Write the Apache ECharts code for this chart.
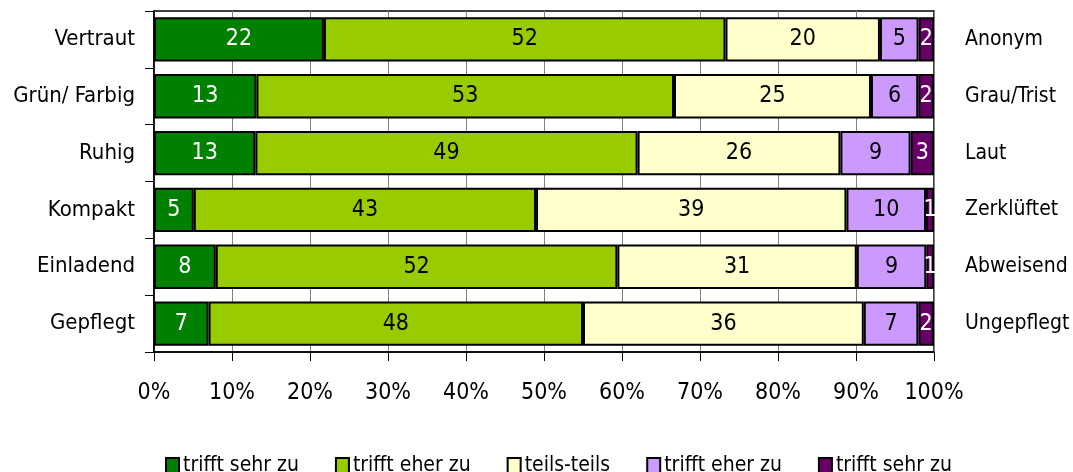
<!DOCTYPE html>
<html>
<head>
<meta charset="utf-8">
<script src="https://cdn.jsdelivr.net/npm/echarts@6/dist/echarts.min.js"></script>
<style>
  html, body { margin: 0; padding: 0; background: #fff; }
  #chart { width: 1073px; height: 472px; }
</style>
</head>
<body>
<div id="chart"></div>
<script>
// Item pairs: positive pole (left) and negative pole (right)
const leftLabels = ['Vertraut', 'Grün/ Farbig', 'Ruhig', 'Kompakt', 'Einladend', 'Gepflegt'];
const rightLabels = ['Anonym', 'Grau/Trist', 'Laut', 'Zerklüftet', 'Abweisend', 'Ungepflegt'];

// Answer shares in percent per item
const sehrLinks = [22, 13, 13, 5, 8, 7];
const eherLinks = [52, 53, 49, 43, 52, 48];
const teilsTeils = [20, 25, 26, 39, 31, 36];
const eherRechts = [5, 6, 9, 10, 9, 7];
const sehrRechts = [2, 2, 3, 1, 1, 2];

const seriesNames = ['trifft sehr zu', 'trifft eher zu', 'teils-teils', 'trifft eher zu ', 'trifft sehr zu '];
const seriesColors = ['#008000', '#99cc00', '#ffffcc', '#cc99ff', '#660066'];
const labelColors = ['#ffffff', '#000000', '#000000', '#000000', '#ffffff'];
const xTickValues = [0, 10, 20, 30, 40, 50, 60, 70, 80, 90, 100];

const FONT = '"Liberation Sans Narrow", "Arial Narrow", "DejaVu Sans Condensed", sans-serif';

const allSeries = [sehrLinks, eherLinks, teilsTeils, eherRechts, sehrRechts];
// each row is drawn as a 100% stack of its rounded shares
const rowTotals = leftLabels.map((_, i) => allSeries.reduce((s, arr) => s + arr[i], 0));

const chart = echarts.init(document.getElementById('chart'), null, { renderer: 'canvas' });

chart.setOption({
  animation: false,
  backgroundColor: '#ffffff',
  textStyle: { fontFamily: FONT },
  grid: {
    left: 154, right: 139, top: 11, height: 341,
    show: true, borderColor: '#000000', borderWidth: 1.5, backgroundColor: '#ffffff'
  },
  legend: {
    left: 160, top: 450, itemWidth: 13, itemHeight: 15, itemGap: 36,
    icon: 'rect',
    formatter: name => name.trim(),
    textStyle: { fontFamily: FONT, fontSize: 21, color: '#000', padding: [0, 0, 0, -1] },
    itemStyle: { borderColor: '#000', borderWidth: 2 },
    data: seriesNames
  },
  xAxis: {
    type: 'value', min: 0, max: 100, interval: 10,
    axisLine: { show: true, lineStyle: { color: '#000', width: 1.5 } },
    axisTick: { show: true, length: 9, lineStyle: { color: '#000', width: 1 } },
    axisLabel: {
      margin: 30, fontSize: 23, color: '#000', fontFamily: FONT,
      formatter: v => xTickValues.includes(v) ? v + '%' : ''
    },
    splitLine: { show: true, lineStyle: { color: '#808080', width: 1 } }
  },
  yAxis: [
    {
      type: 'category', data: leftLabels, inverse: true, position: 'left',
      axisLine: { show: true, lineStyle: { color: '#000', width: 1.5 } },
      axisTick: { show: true, length: 9, lineStyle: { color: '#000', width: 1 } },
      axisLabel: { margin: 19, fontSize: 22, color: '#000', fontFamily: FONT }
    },
    {
      type: 'category', data: rightLabels, inverse: true, position: 'right',
      axisLine: { show: false }, axisTick: { show: false },
      axisLabel: { margin: 31, fontSize: 21, color: '#000', fontFamily: FONT, align: 'left' }
    }
  ],
  series: allSeries.map((arr, k) => ({
    name: seriesNames[k],
    type: 'bar',
    stack: 'total',
    yAxisIndex: 0,
    barCategoryGap: '22%',
    itemStyle: { color: seriesColors[k], borderColor: '#000', borderWidth: 2 },
    label: {
      show: true, position: 'inside', fontSize: 23, fontFamily: FONT,
      color: labelColors[k],
      formatter: p => String(arr[p.dataIndex])
    },
    data: arr.map((v, i) => v / rowTotals[i] * 100)
  }))
});
</script>
</body>
</html>
